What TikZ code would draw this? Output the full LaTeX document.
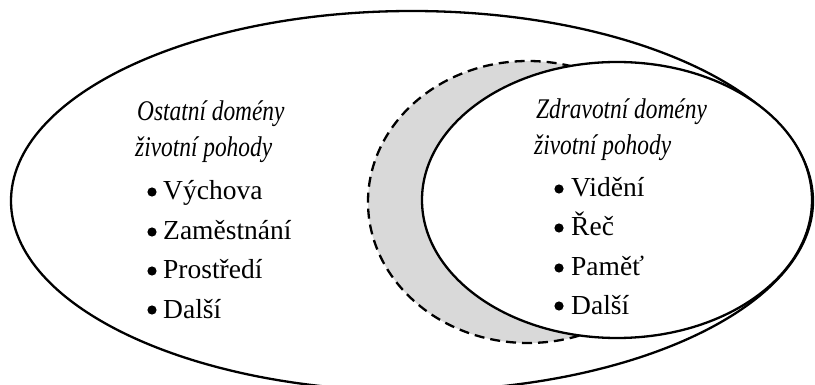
\documentclass[tikz,border=0pt]{standalone}
\usepackage{fontspec}
\setmainfont{Liberation Serif}
\newfontfamily\titfont[FakeStretch=0.82]{Liberation Serif}
\definecolor{crescent}{RGB}{217,217,217}
\begin{document}
\begin{tikzpicture}[x=1pt,y=-1pt,
  ring/.style={line width=2.3pt,black},
  dashring/.style={line width=2.3pt,black,dash pattern=on 10pt off 6pt,fill=crescent},
  titletext/.style={anchor=base west,inner sep=0pt,font=\titfont\itshape\fontsize{28.5}{32}\selectfont},
  itemtext/.style={anchor=base west,inner sep=0pt,font=\fontsize{27.5}{32}\selectfont},
  dot/.style={fill=black}]
\useasboundingbox (0,0) rectangle (815,385);
\begin{scope}
\clip (0,0) rectangle (815,385);
\draw[ring] (412,201) ellipse [x radius=401pt, y radius=190pt];
\end{scope}
\draw[dashring] (528,202) ellipse [x radius=160pt, y radius=141pt];
\draw[ring,fill=white] (617,200) ellipse [x radius=195pt, y radius=138pt];
% left column
\node[titletext] (lt1) at (137,121) {Ostatní domény};
\node[titletext] (lt2) at (135,157) {životní pohody};
\node[itemtext] (l1) at (163,200) {Výchova};
\node[itemtext] (l2) at (163,240) {Zaměstnání};
\node[itemtext] (l3) at (163,279) {Prostředí};
\node[itemtext] (l4) at (163,318) {Další};
\foreach \yy in {200,240,279,318} \fill[dot] (152,\yy-8) circle [radius=4.6pt];
% right column
\node[titletext] (rt1) at (536,119) {Zdravotní domény};
\node[titletext] (rt2) at (534,155) {životní pohody};
\node[itemtext] (r1) at (571,197) {Vidění};
\node[itemtext] (r2) at (571,236) {Řeč};
\node[itemtext] (r3) at (571,276) {Paměť};
\node[itemtext] (r4) at (571,314) {Další};
\foreach \yy in {197,236,276,314} \fill[dot] (559,\yy-8) circle [radius=4.6pt];
\end{tikzpicture}
\end{document}
